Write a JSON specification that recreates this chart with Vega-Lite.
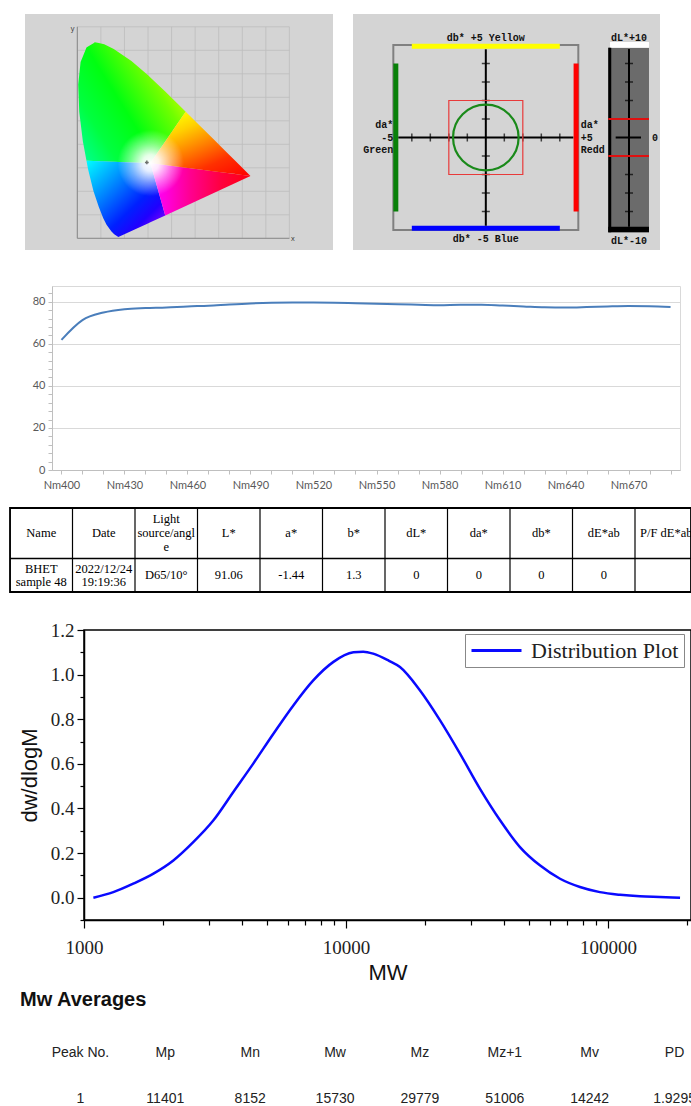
{
  "$schema": "https://vega.github.io/schema/vega-lite/v6.json",
  "padding": 0,
  "background": "white",
  "spacing": 0,
  "bounds": "full",
  "config": {"view": {"stroke": null}, "font": "Liberation Sans"},
  "vconcat": [
    {"width": 1, "height": 14, "data": {"values": [{}]}, "mark": {"type": "point", "opacity": 0, "size": 1}},
    {
      "hconcat": [
        {"width": 25, "height": 236, "data": {"values": [{}]}, "mark": {"type": "point", "opacity": 0, "size": 1}},
        {
          "width": 308, "height": 236,
          "view": {"fill": "#d4d4d4", "stroke": null},
          "layer": [
            {
              "data": {"values": [{"g":0},{"g":0.1},{"g":0.2},{"g":0.3},{"g":0.4},{"g":0.5},{"g":0.6},{"g":0.7},{"g":0.8},{"g":0.9}]},
              "mark": {"type": "rule", "color": "#bcbcbc", "strokeWidth": 0.8},
              "encoding": {
                "x": {"field": "g", "type": "quantitative", "title": null,
                  "scale": {"domain": [-0.222, 1.085], "nice": false, "zero": false},
                  "axis": {"orient": "bottom", "offset": -11.7, "values": [0.1,0.2,0.3,0.4,0.5,0.6,0.7,0.8], "domain": false, "ticks": false, "grid": false, "labelFont": "Liberation Mono", "labelFontSize": 6.5, "labelColor": "#333333", "labelPadding": 2, "labelFlush": false, "labelOverlap": false, "title": null}},
                "y": {"datum": 0, "type": "quantitative",
                  "scale": {"domain": [-0.0498, 0.9545], "nice": false, "zero": false},
                  "axis": {"orient": "left", "offset": -52.3, "values": [0,0.1,0.2,0.3,0.4,0.5,0.6,0.7,0.8], "domain": false, "ticks": false, "grid": false, "labelFont": "Liberation Mono", "labelFontSize": 6.5, "labelColor": "#333333", "labelPadding": 3, "labelFlush": false, "labelOverlap": false, "title": null}},
                "y2": {"datum": 0.9}
              }
            },
            {
              "data": {"values": [{"g":0},{"g":0.1},{"g":0.2},{"g":0.3},{"g":0.4},{"g":0.5},{"g":0.6},{"g":0.7},{"g":0.8},{"g":0.9}]},
              "mark": {"type": "rule", "color": "#bcbcbc", "strokeWidth": 0.8},
              "encoding": {
                "y": {"field": "g", "type": "quantitative", "title": null, "axis": null},
                "x": {"datum": 0, "type": "quantitative", "axis": null},
                "x2": {"datum": 0.9}
              }
            },
            {
              "data": {"values": [{}]},
              "mark": {"type": "rule", "color": "#8a8a8a", "strokeWidth": 1},
              "encoding": {"x": {"datum": 0, "type": "quantitative", "axis": null}, "y": {"datum": 0, "type": "quantitative", "axis": null}, "y2": {"datum": 0.9}}
            },
            {
              "data": {"values": [{}]},
              "mark": {"type": "rule", "color": "#8a8a8a", "strokeWidth": 1},
              "encoding": {"x": {"datum": 0, "type": "quantitative", "axis": null}, "x2": {"datum": 0.9}, "y": {"datum": 0, "type": "quantitative", "axis": null}}
            },
            {
              "data": {"values": [{"x":0.0039,"lo":0.6548,"hi":0.6548},{"x":0.0082,"lo":0.5384,"hi":0.696},{"x":0.0139,"lo":0.4915,"hi":0.7502},{"x":0.0235,"lo":0.4127,"hi":0.774},{"x":0.0389,"lo":0.33,"hi":0.812},{"x":0.0454,"lo":0.3298,"hi":0.816},{"x":0.0687,"lo":0.3289,"hi":0.8305},{"x":0.0743,"lo":0.3287,"hi":0.8338},{"x":0.0913,"lo":0.3281,"hi":0.8306},{"x":0.1142,"lo":0.3272,"hi":0.8262},{"x":0.1547,"lo":0.3257,"hi":0.8059},{"x":0.2296,"lo":0.323,"hi":0.7543},{"x":0.3016,"lo":0.3203,"hi":0.6923},{"x":0.31,"lo":0.32,"hi":0.6844},{"x":0.3731,"lo":0.4121,"hi":0.6245},{"x":0.4441,"lo":0.5158,"hi":0.5547},{"x":0.46,"lo":0.539,"hi":0.539}]},
              "mark": {"type": "area", "orient": "vertical",
                "fill": {"gradient": "linear", "x1": 0, "y1": 1, "x2": 1, "y2": 0.3, "stops": [{"offset": 0, "color": "#00ffa0"}, {"offset": 0.25, "color": "#00ff40"}, {"offset": 0.5, "color": "#00ff10"}, {"offset": 0.78, "color": "#70ff00"}, {"offset": 1, "color": "#e8ff00"}]}},
              "encoding": {"x": {"field": "x", "type": "quantitative", "title": null, "axis": null}, "y": {"field": "lo", "type": "quantitative", "title": null, "axis": null}, "y2": {"field": "hi"}}
            },
            {
              "data": {"values": [{"x":0.0389,"lo":0.33,"hi":0.33},{"x":0.0454,"lo":0.295,"hi":0.3298},{"x":0.0687,"lo":0.2007,"hi":0.3289},{"x":0.0913,"lo":0.1327,"hi":0.3281},{"x":0.1096,"lo":0.0868,"hi":0.3274},{"x":0.1241,"lo":0.0578,"hi":0.3268},{"x":0.144,"lo":0.0297,"hi":0.3261},{"x":0.1566,"lo":0.0177,"hi":0.3256},{"x":0.1741,"lo":0.005,"hi":0.325},{"x":0.2296,"lo":0.0308,"hi":0.323},{"x":0.3016,"lo":0.0642,"hi":0.3203},{"x":0.31,"lo":0.0681,"hi":0.32},{"x":0.3731,"lo":0.0974,"hi":0.0974}]},
              "mark": {"type": "area", "orient": "vertical",
                "fill": {"gradient": "linear", "x1": 0, "y1": 0, "x2": 1, "y2": 1, "stops": [{"offset": 0, "color": "#00ffff"}, {"offset": 0.3, "color": "#0090ff"}, {"offset": 0.6, "color": "#0020ff"}, {"offset": 0.75, "color": "#2000ff"}, {"offset": 0.9, "color": "#8000ff"}, {"offset": 1, "color": "#b000ff"}]}},
              "encoding": {"x": {"field": "x", "type": "quantitative", "title": null, "axis": null}, "y": {"field": "lo", "type": "quantitative", "title": null, "axis": null}, "y2": {"field": "hi"}}
            },
            {
              "data": {"values": [{"x":0.31,"lo":0.32,"hi":0.32},{"x":0.3731,"lo":0.0974,"hi":0.3119},{"x":0.7347,"lo":0.2653,"hi":0.2653}]},
              "mark": {"type": "area", "orient": "vertical",
                "fill": {"gradient": "linear", "x1": 0, "y1": 0, "x2": 1, "y2": 0, "stops": [{"offset": 0, "color": "#ff00ff"}, {"offset": 0.15, "color": "#ff00e0"}, {"offset": 0.4, "color": "#ff0090"}, {"offset": 0.7, "color": "#ff0040"}, {"offset": 1, "color": "#ff0010"}]}},
              "encoding": {"x": {"field": "x", "type": "quantitative", "title": null, "axis": null}, "y": {"field": "lo", "type": "quantitative", "title": null, "axis": null}, "y2": {"field": "hi"}}
            },
            {
              "data": {"values": [{"x":0.31,"lo":0.32,"hi":0.32},{"x":0.3731,"lo":0.3119,"hi":0.4121},{"x":0.4441,"lo":0.3027,"hi":0.5158},{"x":0.46,"lo":0.3007,"hi":0.539},{"x":0.5125,"lo":0.2939,"hi":0.4866},{"x":0.5752,"lo":0.2858,"hi":0.4242},{"x":0.627,"lo":0.2792,"hi":0.3725},{"x":0.6658,"lo":0.2742,"hi":0.334},{"x":0.6915,"lo":0.2709,"hi":0.3083},{"x":0.719,"lo":0.2673,"hi":0.2809},{"x":0.7347,"lo":0.2653,"hi":0.2653}]},
              "mark": {"type": "area", "orient": "vertical",
                "fill": {"gradient": "linear", "x1": 0.3, "y1": 0, "x2": 1, "y2": 1, "stops": [{"offset": 0, "color": "#ffff00"}, {"offset": 0.2, "color": "#ffd000"}, {"offset": 0.45, "color": "#ff8000"}, {"offset": 0.7, "color": "#ff3000"}, {"offset": 1, "color": "#ff0000"}]}},
              "encoding": {"x": {"field": "x", "type": "quantitative", "title": null, "axis": null}, "y": {"field": "lo", "type": "quantitative", "title": null, "axis": null}, "y2": {"field": "hi"}}
            },
            {
              "data": {"values": [{"x":0.0039,"lo":0.6548,"hi":0.6548},{"x":0.0082,"lo":0.5384,"hi":0.696},{"x":0.0139,"lo":0.4915,"hi":0.7502},{"x":0.0235,"lo":0.4127,"hi":0.774},{"x":0.0389,"lo":0.33,"hi":0.812},{"x":0.0454,"lo":0.295,"hi":0.816},{"x":0.0687,"lo":0.2007,"hi":0.8305},{"x":0.0743,"lo":0.1838,"hi":0.8338},{"x":0.0913,"lo":0.1327,"hi":0.8306},{"x":0.1096,"lo":0.0868,"hi":0.8271},{"x":0.1241,"lo":0.0578,"hi":0.8212},{"x":0.144,"lo":0.0297,"hi":0.8113},{"x":0.1566,"lo":0.0177,"hi":0.8046},{"x":0.1741,"lo":0.005,"hi":0.7925},{"x":0.2296,"lo":0.0308,"hi":0.7543},{"x":0.3016,"lo":0.0642,"hi":0.6923},{"x":0.3731,"lo":0.0974,"hi":0.6245},{"x":0.4441,"lo":0.1304,"hi":0.5547},{"x":0.5125,"lo":0.1621,"hi":0.4866},{"x":0.5752,"lo":0.1912,"hi":0.4242},{"x":0.627,"lo":0.2153,"hi":0.3725},{"x":0.6658,"lo":0.2333,"hi":0.334},{"x":0.6915,"lo":0.2452,"hi":0.3083},{"x":0.719,"lo":0.258,"hi":0.2809},{"x":0.7347,"lo":0.2653,"hi":0.2653}]},
              "mark": {"type": "area", "orient": "vertical",
                "fill": {"gradient": "radial", "x1": 0.43, "y1": 0.62, "r1": 0, "x2": 0.43, "y2": 0.62, "r2": 0.17, "stops": [{"offset": 0, "color": "rgba(255,255,255,1)"}, {"offset": 0.25, "color": "rgba(255,255,255,0.9)"}, {"offset": 0.6, "color": "rgba(255,255,255,0.45)"}, {"offset": 1, "color": "rgba(255,255,255,0)"}]}},
              "encoding": {"x": {"field": "x", "type": "quantitative", "title": null, "axis": null}, "y": {"field": "lo", "type": "quantitative", "title": null, "axis": null}, "y2": {"field": "hi"}}
            },
            {
              "data": {"values": [{"cx": 0.295, "cy": 0.323}]},
              "mark": {"type": "point", "shape": "cross", "size": 14, "filled": true, "color": "#333333"},
              "encoding": {"x": {"field": "cx", "type": "quantitative", "title": null, "axis": null}, "y": {"field": "cy", "type": "quantitative", "title": null, "axis": null}}
            },
            {
              "data": {"values": [{}]},
              "mark": {"type": "text", "text": "x", "font": "Liberation Mono", "fontSize": 7, "color": "#333333"},
              "encoding": {"x": {"datum": 0.915, "type": "quantitative", "axis": null}, "y": {"datum": -0.004, "type": "quantitative", "axis": null}}
            },
            {
              "data": {"values": [{}]},
              "mark": {"type": "text", "text": "y", "font": "Liberation Mono", "fontSize": 7, "color": "#333333"},
              "encoding": {"x": {"datum": -0.02, "type": "quantitative", "axis": null}, "y": {"datum": 0.889, "type": "quantitative", "axis": null}}
            }
          ]
        },
        {"width": 20, "height": 236, "data": {"values": [{}]}, "mark": {"type": "point", "opacity": 0, "size": 1}},
        {
          "width": 255, "height": 236,
          "view": {"fill": "#d4d4d4", "stroke": null},
          "data": {"values": [{}]},
          "layer": [
            {
              "mark": {"type": "rect", "fill": "white", "fillOpacity": 0, "stroke": "#808080", "strokeWidth": 2},
              "encoding": {
                "x": {"datum": -5, "type": "quantitative", "scale": {"domain": [-7.18, 6.605], "nice": false, "zero": false}, "axis": null},
                "x2": {"datum": 5},
                "y": {"datum": -5, "type": "quantitative", "scale": {"domain": [-6.081, 6.676], "nice": false, "zero": false}, "axis": null},
                "y2": {"datum": 5}
              }
            },
            {"mark": {"type": "rule", "color": "#ffff00", "strokeWidth": 5}, "encoding": {"x": {"datum": -4, "type": "quantitative", "axis": null}, "x2": {"datum": 4}, "y": {"datum": 4.93, "type": "quantitative", "axis": null}}},
            {"mark": {"type": "rule", "color": "#0000ff", "strokeWidth": 5}, "encoding": {"x": {"datum": -4, "type": "quantitative", "axis": null}, "x2": {"datum": 4}, "y": {"datum": -4.9, "type": "quantitative", "axis": null}}},
            {"mark": {"type": "rule", "color": "#088008", "strokeWidth": 5}, "encoding": {"x": {"datum": -4.865, "type": "quantitative", "axis": null}, "y": {"datum": -4, "type": "quantitative", "axis": null}, "y2": {"datum": 4}}},
            {"mark": {"type": "rule", "color": "#ff0000", "strokeWidth": 5}, "encoding": {"x": {"datum": 4.88, "type": "quantitative", "axis": null}, "y": {"datum": -4, "type": "quantitative", "axis": null}, "y2": {"datum": 4}}},
            {"mark": {"type": "rule", "color": "#000000", "strokeWidth": 2}, "encoding": {"x": {"datum": -4.73, "type": "quantitative", "axis": null}, "x2": {"datum": 4.73}, "y": {"datum": 0, "type": "quantitative", "axis": null}}},
            {"mark": {"type": "rule", "color": "#000000", "strokeWidth": 2}, "encoding": {"x": {"datum": 0, "type": "quantitative", "axis": null}, "y": {"datum": -4.77, "type": "quantitative", "axis": null}, "y2": {"datum": 4.77}}},
            {
              "data": {"values": [{"v": -4}, {"v": -3}, {"v": -2}, {"v": -1}, {"v": 1}, {"v": 2}, {"v": 3}, {"v": 4}]},
              "mark": {"type": "tick", "orient": "vertical", "color": "#000000", "size": 8, "thickness": 1.5},
              "encoding": {"x": {"field": "v", "type": "quantitative", "title": null, "axis": null}, "y": {"datum": 0, "type": "quantitative", "axis": null}}
            },
            {
              "data": {"values": [{"v": -4}, {"v": -3}, {"v": -2}, {"v": -1}, {"v": 1}, {"v": 2}, {"v": 3}, {"v": 4}]},
              "mark": {"type": "tick", "orient": "horizontal", "color": "#000000", "size": 8, "thickness": 1.5},
              "encoding": {"y": {"field": "v", "type": "quantitative", "title": null, "axis": null}, "x": {"datum": 0, "type": "quantitative", "axis": null}}
            },
            {
              "mark": {"type": "rect", "fill": "white", "fillOpacity": 0, "stroke": "#e83a3a", "strokeWidth": 1.2},
              "encoding": {"x": {"datum": -2, "type": "quantitative", "axis": null}, "x2": {"datum": 2}, "y": {"datum": -2, "type": "quantitative", "axis": null}, "y2": {"datum": 2}}
            },
            {
              "mark": {"type": "point", "shape": "circle", "size": 4300, "filled": false, "stroke": "#1a8a1a", "strokeWidth": 2.2, "opacity": 1},
              "encoding": {"x": {"datum": 0, "type": "quantitative", "axis": null}, "y": {"datum": 0, "type": "quantitative", "axis": null}}
            },
            {
              "mark": {"type": "text", "text": "db* +5 Yellow", "font": "Liberation Mono", "fontWeight": "bold", "fontSize": 10, "color": "#111111"},
              "encoding": {"x": {"datum": 0, "type": "quantitative", "axis": null}, "y": {"datum": 5.36, "type": "quantitative", "axis": null}}
            },
            {
              "mark": {"type": "text", "text": "db* -5 Blue", "font": "Liberation Mono", "fontWeight": "bold", "fontSize": 10, "color": "#111111"},
              "encoding": {"x": {"datum": 0, "type": "quantitative", "axis": null}, "y": {"datum": -5.49, "type": "quantitative", "axis": null}}
            },
            {
              "mark": {"type": "text", "text": "da*\n-5\nGreen", "lineBreak": "\n", "lineHeight": 12.5, "align": "right", "baseline": "middle", "dy": -12.5, "font": "Liberation Mono", "fontWeight": "bold", "fontSize": 10, "color": "#111111"},
              "encoding": {"x": {"datum": -5.0, "type": "quantitative", "axis": null}, "y": {"datum": 0, "type": "quantitative", "axis": null}}
            },
            {
              "mark": {"type": "text", "text": "da*\n+5\nRedd", "lineBreak": "\n", "lineHeight": 12.5, "align": "left", "baseline": "middle", "dy": -12.5, "font": "Liberation Mono", "fontWeight": "bold", "fontSize": 10, "color": "#111111"},
              "encoding": {"x": {"datum": 5.13, "type": "quantitative", "axis": null}, "y": {"datum": 0, "type": "quantitative", "axis": null}}
            }
          ]
        },
        {
          "width": 52, "height": 236,
          "view": {"fill": "#d4d4d4", "stroke": null},
          "data": {"values": [{}]},
          "layer": [
            {
              "mark": {"type": "rect", "fill": "#6b6b6b"},
              "encoding": {
                "x": {"datum": -2.24, "type": "quantitative", "scale": {"domain": [-2.27, 3.351], "nice": false, "zero": false}, "axis": null},
                "x2": {"datum": 2.16},
                "y": {"datum": -10.24, "type": "quantitative", "scale": {"domain": [-12.16, 13.35], "nice": false, "zero": false}, "axis": null},
                "y2": {"datum": 9.71}
              }
            },
            {"mark": {"type": "rect", "fill": "#ffffff"}, "encoding": {"x": {"datum": -2.05, "type": "quantitative", "axis": null}, "x2": {"datum": 2.16}, "y": {"datum": 9.71, "type": "quantitative", "axis": null}, "y2": {"datum": 10.33}}},
            {"mark": {"type": "rect", "fill": "#000000"}, "encoding": {"x": {"datum": -2.24, "type": "quantitative", "axis": null}, "x2": {"datum": -1.92}, "y": {"datum": -10.24, "type": "quantitative", "axis": null}, "y2": {"datum": 9.71}}},
            {"mark": {"type": "rect", "fill": "#000000"}, "encoding": {"x": {"datum": -2.24, "type": "quantitative", "axis": null}, "x2": {"datum": 2.16}, "y": {"datum": -10.24, "type": "quantitative", "axis": null}, "y2": {"datum": -9.65}}},
            {"mark": {"type": "rule", "color": "#000000", "strokeWidth": 2}, "encoding": {"x": {"datum": 0, "type": "quantitative", "axis": null}, "y": {"datum": -9.65, "type": "quantitative", "axis": null}, "y2": {"datum": 9.57}}},
            {"mark": {"type": "rule", "color": "#000000", "strokeWidth": 2}, "encoding": {"x": {"datum": -1.44, "type": "quantitative", "axis": null}, "x2": {"datum": 1.3}, "y": {"datum": 0, "type": "quantitative", "axis": null}}},
            {
              "data": {"values": [{"d": -8}, {"d": -6}, {"d": -4}, {"d": 4}, {"d": 6}, {"d": 8}]},
              "mark": {"type": "tick", "orient": "horizontal", "color": "#000000", "size": 8, "thickness": 1.5},
              "encoding": {"y": {"field": "d", "type": "quantitative", "title": null, "axis": null}, "x": {"datum": 0, "type": "quantitative", "axis": null}}
            },
            {
              "data": {"values": [{"d": -2}, {"d": 2}]},
              "mark": {"type": "rule", "color": "#e01010", "strokeWidth": 2},
              "encoding": {"y": {"field": "d", "type": "quantitative", "title": null, "axis": null}, "x": {"datum": -2.24, "type": "quantitative", "axis": null}, "x2": {"datum": 2.16}}
            },
            {
              "mark": {"type": "text", "text": "dL*+10", "font": "Liberation Mono", "fontWeight": "bold", "fontSize": 10, "color": "#111111"},
              "encoding": {"x": {"datum": 0, "type": "quantitative", "axis": null}, "y": {"datum": 10.79, "type": "quantitative", "axis": null}}
            },
            {
              "mark": {"type": "text", "text": "dL*-10", "font": "Liberation Mono", "fontWeight": "bold", "fontSize": 10, "color": "#111111"},
              "encoding": {"x": {"datum": 0, "type": "quantitative", "axis": null}, "y": {"datum": -11.16, "type": "quantitative", "axis": null}}
            },
            {
              "mark": {"type": "text", "text": "0", "font": "Liberation Mono", "fontWeight": "bold", "fontSize": 10, "color": "#111111"},
              "encoding": {"x": {"datum": 2.81, "type": "quantitative", "axis": null}, "y": {"datum": 0, "type": "quantitative", "axis": null}}
            }
          ]
        }
      ],
      "spacing": 0,
      "bounds": "flush"
    },
    {"width": 1, "height": 35, "data": {"values": [{}]}, "mark": {"type": "point", "opacity": 0, "size": 1}},
    {
      "hconcat": [
        {"width": 52, "height": 184, "data": {"values": [{}]}, "mark": {"type": "point", "opacity": 0, "size": 1}},
        {
          "width": 628, "height": 184,
          "view": {"stroke": "#d9d9d9"},
          "data": {"values": [
            {"wl": "Nm400", "r": 61.9}, {"wl": "Nm410", "r": 71.3}, {"wl": "Nm420", "r": 74.9}, {"wl": "Nm430", "r": 76.5},
            {"wl": "Nm440", "r": 77.0}, {"wl": "Nm450", "r": 77.3}, {"wl": "Nm460", "r": 77.8}, {"wl": "Nm470", "r": 78.1},
            {"wl": "Nm480", "r": 78.7}, {"wl": "Nm490", "r": 79.2}, {"wl": "Nm500", "r": 79.5}, {"wl": "Nm510", "r": 79.6},
            {"wl": "Nm520", "r": 79.6}, {"wl": "Nm530", "r": 79.5}, {"wl": "Nm540", "r": 79.3}, {"wl": "Nm550", "r": 79.1},
            {"wl": "Nm560", "r": 78.8}, {"wl": "Nm570", "r": 78.6}, {"wl": "Nm580", "r": 78.4}, {"wl": "Nm590", "r": 78.6},
            {"wl": "Nm600", "r": 78.6}, {"wl": "Nm610", "r": 78.2}, {"wl": "Nm620", "r": 77.8}, {"wl": "Nm630", "r": 77.4},
            {"wl": "Nm640", "r": 77.3}, {"wl": "Nm650", "r": 77.5}, {"wl": "Nm660", "r": 77.8}, {"wl": "Nm670", "r": 78.0},
            {"wl": "Nm680", "r": 77.9}, {"wl": "Nm690", "r": 77.5}
          ]},
          "mark": {"type": "line", "color": "#4a7ebb", "strokeWidth": 2, "interpolate": "monotone"},
          "encoding": {
            "x": {"field": "wl", "type": "ordinal", "sort": null, "scale": {"type": "point", "padding": 0.45},
              "axis": {"title": null, "labelAngle": 0, "labelOverlap": false,
                "labelExpr": "indexof(['Nm400','Nm430','Nm460','Nm490','Nm520','Nm550','Nm580','Nm610','Nm640','Nm670'], datum.label) >= 0 ? datum.label : ''",
                "labelFont": "Lato", "labelFontSize": 11, "labelColor": "#595959", "labelPadding": 5,
                "domainColor": "#bfbfbf", "tickColor": "#bfbfbf", "tickSize": 4, "grid": false}},
            "y": {"field": "r", "type": "quantitative", "scale": {"domain": [0, 87.5], "nice": false},
              "axis": {"title": null, "values": [0,4,8,12,16,20,24,28,32,36,40,44,48,52,56,60,64,68,72,76,80,84],
                "labelExpr": "datum.value % 20 === 0 ? datum.label : ''",
                "labelFont": "Lato", "labelFontSize": 11, "labelColor": "#595959", "labelPadding": 3,
                "domainColor": "#bfbfbf", "tickColor": "#bfbfbf", "tickSize": 4,
                "grid": true, "gridColor": "#d9d9d9",
                "gridOpacity": {"condition": {"test": "datum.value % 20 === 0 && datum.value > 0", "value": 1}, "value": 0}}}
          }
        }
      ],
      "spacing": 0,
      "bounds": "flush"
    },
    {"width": 1, "height": 15.8, "data": {"values": [{}]}, "mark": {"type": "point", "opacity": 0, "size": 1}},
    {
      "hconcat": [
        {"width": 10, "height": 84, "data": {"values": [{}]}, "mark": {"type": "point", "opacity": 0, "size": 1}},
        {
          "width": 681, "height": 84,
          "view": {"stroke": "#000000", "strokeWidth": 1.8},
          "data": {"values": [
            {"col": "Name", "row": "h", "t": "Name"},
            {"col": "Date", "row": "h", "t": "Date"},
            {"col": "Light", "row": "h", "t": "Light\nsource/angl\ne"},
            {"col": "L*", "row": "h", "t": "L*"},
            {"col": "a*", "row": "h", "t": "a*"},
            {"col": "b*", "row": "h", "t": "b*"},
            {"col": "dL*", "row": "h", "t": "dL*"},
            {"col": "da*", "row": "h", "t": "da*"},
            {"col": "db*", "row": "h", "t": "db*"},
            {"col": "dE*ab", "row": "h", "t": "dE*ab"},
            {"col": "P/F", "row": "h", "t": "P/F dE*ab"},
            {"col": "Name", "row": "d", "t": "BHET\nsample 48"},
            {"col": "Date", "row": "d", "t": "2022/12/24\n19:19:36"},
            {"col": "Light", "row": "d", "t": "D65/10°"},
            {"col": "L*", "row": "d", "t": "91.06"},
            {"col": "a*", "row": "d", "t": "-1.44"},
            {"col": "b*", "row": "d", "t": "1.3"},
            {"col": "dL*", "row": "d", "t": "0"},
            {"col": "da*", "row": "d", "t": "0"},
            {"col": "db*", "row": "d", "t": "0"},
            {"col": "dE*ab", "row": "d", "t": "0"},
            {"col": "P/F", "row": "d", "t": ""}
          ]},
          "layer": [
            {
              "transform": [{"filter": "datum.row === 'h'"}],
              "mark": {"type": "rule", "color": "#000000", "strokeWidth": 1.2, "clip": true},
              "encoding": {
                "x": {"field": "col", "type": "nominal", "bandPosition": 0,
                  "scale": {"type": "band", "domain": ["Name","Date","Light","L*","a*","b*","dL*","da*","db*","dE*ab","P/F"], "range": [0, 687.5], "paddingInner": 0, "paddingOuter": 0},
                  "axis": null}
              }
            },
            {
              "transform": [{"filter": "datum.col === 'Name' && datum.row === 'd'"}],
              "mark": {"type": "rule", "color": "#000000", "strokeWidth": 1.5},
              "encoding": {
                "y": {"datum": "d0", "type": "nominal", "bandPosition": 0,
                  "scale": {"type": "band", "domain": ["h0","h","h1","d0","d"], "range": [0, 84], "paddingInner": 0, "paddingOuter": 0},
                  "axis": null}
              }
            },
            {
              "transform": [{"filter": "datum.row === 'h' && indexof(datum.t, '\\n') < 0"}],
              "mark": {"type": "text", "font": "Liberation Serif", "fontSize": 12.5, "color": "#000000", "clip": true},
              "encoding": {
                "x": {"field": "col", "type": "nominal", "bandPosition": 0.5, "axis": null},
                "y": {"field": "row", "type": "nominal", "bandPosition": 0.5, "axis": null},
                "text": {"field": "t"}
              }
            },
            {
              "transform": [{"filter": "datum.row === 'h' && indexof(datum.t, '\\n') >= 0"}],
              "mark": {"type": "text", "font": "Liberation Serif", "fontSize": 12.5, "color": "#000000", "lineBreak": "\n", "lineHeight": 14, "dy": -14, "clip": true},
              "encoding": {
                "x": {"field": "col", "type": "nominal", "bandPosition": 0.5, "axis": null},
                "y": {"field": "row", "type": "nominal", "bandPosition": 0.5, "axis": null},
                "text": {"field": "t"}
              }
            },
            {
              "transform": [{"filter": "datum.row === 'd' && indexof(datum.t, '\\n') < 0"}],
              "mark": {"type": "text", "font": "Liberation Serif", "fontSize": 12.5, "color": "#000000", "clip": true},
              "encoding": {
                "x": {"field": "col", "type": "nominal", "bandPosition": 0.5, "axis": null},
                "y": {"field": "row", "type": "nominal", "bandPosition": 0, "axis": null},
                "text": {"field": "t"}
              }
            },
            {
              "transform": [{"filter": "datum.row === 'd' && indexof(datum.t, '\\n') >= 0"}],
              "mark": {"type": "text", "font": "Liberation Serif", "fontSize": 12.5, "color": "#000000", "lineBreak": "\n", "lineHeight": 13, "dy": -6.5, "clip": true},
              "encoding": {
                "x": {"field": "col", "type": "nominal", "bandPosition": 0.5, "axis": null},
                "y": {"field": "row", "type": "nominal", "bandPosition": 0, "axis": null},
                "text": {"field": "t"}
              }
            }
          ]
        }
      ],
      "spacing": 0,
      "bounds": "flush"
    },
    {"width": 1, "height": 26.1, "data": {"values": [{}]}, "mark": {"type": "point", "opacity": 0, "size": 1}},
    {
      "hconcat": [
        {"width": 84, "height": 290, "data": {"values": [{}]}, "mark": {"type": "point", "opacity": 0, "size": 1}},
        {
          "width": 607, "height": 290,
          "view": {"stroke": "#000000", "strokeWidth": 1.5},
          "data": {"values": [
            {"mw": 1086, "w": 0}, {"mw": 1294, "w": 0.025}, {"mw": 1542, "w": 0.063}, {"mw": 1841, "w": 0.108},
            {"mw": 2193, "w": 0.167}, {"mw": 2612, "w": 0.249}, {"mw": 3119, "w": 0.347}, {"mw": 3715, "w": 0.474},
            {"mw": 4426, "w": 0.601}, {"mw": 5284, "w": 0.735}, {"mw": 6295, "w": 0.862}, {"mw": 7499, "w": 0.974},
            {"mw": 8954, "w": 1.057}, {"mw": 10670, "w": 1.1}, {"mw": 11640, "w": 1.103}, {"mw": 12706, "w": 1.094},
            {"mw": 14590, "w": 1.062}, {"mw": 16070, "w": 1.034}, {"mw": 19140, "w": 0.93}, {"mw": 22860, "w": 0.795},
            {"mw": 27230, "w": 0.646}, {"mw": 32430, "w": 0.489}, {"mw": 38730, "w": 0.347}, {"mw": 46130, "w": 0.227},
            {"mw": 54950, "w": 0.145}, {"mw": 65610, "w": 0.085}, {"mw": 78160, "w": 0.048}, {"mw": 93110, "w": 0.025},
            {"mw": 111170, "w": 0.013}, {"mw": 132430, "w": 0.006}, {"mw": 157760, "w": 0.003}, {"mw": 188360, "w": 0}
          ]},
          "mark": {"type": "line", "strokeWidth": 2.5, "interpolate": "monotone"},
          "encoding": {
            "x": {"field": "mw", "type": "quantitative",
              "scale": {"type": "log", "domain": [1000, 207400], "nice": false},
              "axis": {"title": "MW", "titleFont": "Liberation Sans", "titleFontSize": 22, "titleFontWeight": "normal", "titleColor": "#111111", "titlePadding": 5,
                "values": [1000,2000,3000,4000,5000,6000,7000,8000,9000,10000,20000,30000,40000,50000,60000,70000,80000,90000,100000,200000],
                "labelExpr": "datum.value == 1000 || datum.value == 10000 || datum.value == 100000 ? format(datum.value, 'd') : ''",
                "labelOverlap": false, "labelFlush": false,
                "labelFont": "Liberation Serif", "labelFontSize": 19, "labelColor": "#222222", "labelPadding": 10,
                "domainColor": "#000000", "domainWidth": 1.5, "tickColor": "#000000", "tickWidth": 1.2,
                "tickSize": {"condition": {"test": "datum.value == 1000 || datum.value == 10000 || datum.value == 100000", "value": 8}, "value": 5},
                "grid": false}},
            "y": {"field": "w", "type": "quantitative",
              "scale": {"domain": [-0.1, 1.2], "nice": false, "zero": false},
              "axis": {"title": "dw/dlogM", "titleFont": "Liberation Sans", "titleFontSize": 22, "titleFontWeight": "normal", "titleColor": "#111111", "titlePadding": 9,
                "values": [-0.1,0,0.1,0.2,0.3,0.4,0.5,0.6,0.7,0.8,0.9,1.0,1.1,1.2],
                "labelExpr": "datum.value >= 0 && abs(round(datum.value * 10)) % 2 == 0 ? format(datum.value, '.1f') : ''",
                "labelOverlap": false, "labelFlush": false,
                "labelFont": "Liberation Serif", "labelFontSize": 19, "labelColor": "#222222", "labelPadding": 3,
                "domainColor": "#000000", "domainWidth": 1.5, "tickColor": "#000000", "tickWidth": 1.2,
                "tickSize": {"condition": {"test": "abs(round(datum.value * 10)) % 2 == 0", "value": 7}, "value": 4},
                "grid": false}},
            "color": {"datum": "Distribution Plot", "type": "nominal",
              "scale": {"range": ["#0a0aff"]},
              "legend": {"title": null, "orient": "none", "legendX": 465, "legendY": 634,
                "symbolType": "M-2.5,0H2.5", "symbolSize": 400, "symbolStrokeWidth": 3, "symbolOffset": 15,
                "labelFont": "Liberation Serif", "labelFontSize": 22, "labelColor": "#222222", "labelOffset": 23, "labelLimit": 300,
                "strokeColor": "#888888", "padding": 5, "fillColor": "#ffffff"}}
          }
        }
      ],
      "spacing": 0,
      "bounds": "flush"
    },
    {"width": 1, "height": 6, "data": {"values": [{}]}, "mark": {"type": "point", "opacity": 0, "size": 1}},
    {
      "hconcat": [
        {"width": 38, "height": 77, "data": {"values": [{}]}, "mark": {"type": "point", "opacity": 0, "size": 1}},
        {
          "width": 653, "height": 77,
          "title": {"text": "Mw Averages", "anchor": "start", "frame": "group", "dx": -18, "offset": 20, "font": "Liberation Sans", "fontSize": 20, "fontWeight": "bold", "color": "#111111"},
          "data": {"values": [
            {"col": "Peak No.", "row": "header", "t": "Peak No."}, {"col": "Mp", "row": "header", "t": "Mp"},
            {"col": "Mn", "row": "header", "t": "Mn"}, {"col": "Mw", "row": "header", "t": "Mw"},
            {"col": "Mz", "row": "header", "t": "Mz"}, {"col": "Mz+1", "row": "header", "t": "Mz+1"},
            {"col": "Mv", "row": "header", "t": "Mv"}, {"col": "PD", "row": "header", "t": "PD"},
            {"col": "Peak No.", "row": "value", "t": "1"}, {"col": "Mp", "row": "value", "t": "11401"},
            {"col": "Mn", "row": "value", "t": "8152"}, {"col": "Mw", "row": "value", "t": "15730"},
            {"col": "Mz", "row": "value", "t": "29779"}, {"col": "Mz+1", "row": "value", "t": "51006"},
            {"col": "Mv", "row": "value", "t": "14242"}, {"col": "PD", "row": "value", "t": "1.9295"}
          ]},
          "mark": {"type": "text", "font": "Liberation Sans", "fontSize": 14, "color": "#222222", "clip": true},
          "encoding": {
            "x": {"field": "col", "type": "nominal",
              "scale": {"type": "band", "domain": ["Peak No.","Mp","Mn","Mw","Mz","Mz+1","Mv","PD"], "range": [0, 679], "paddingInner": 0, "paddingOuter": 0},
              "axis": null},
            "y": {"field": "row", "type": "nominal",
              "scale": {"type": "band", "domain": ["header","value"], "range": [0, 92], "paddingInner": 0, "paddingOuter": 0},
              "axis": null},
            "text": {"field": "t"}
          }
        }
      ],
      "spacing": 0,
      "bounds": "flush"
    }
  ]
}
